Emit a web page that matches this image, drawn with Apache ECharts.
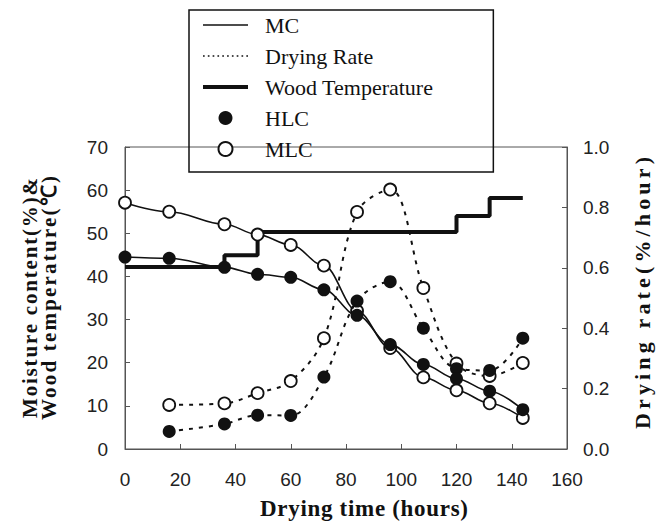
<!DOCTYPE html>
<html>
<head>
<meta charset="utf-8">
<script src="https://cdn.jsdelivr.net/npm/echarts@6/dist/echarts.min.js"></script>
<style>html,body{margin:0;padding:0;background:#fff}#c{width:664px;height:525px}</style>
</head>
<body>
<div id="c"></div>
<script>
// ---- data ----
const hoursMC = [0, 16, 36, 48, 60, 72, 84, 96, 108, 120, 132, 144];
const mcHLC = [44.5, 44.2, 42.1, 40.5, 39.8, 36.9, 31.0, 24.2, 19.6, 16.3, 13.4, 9.1];
const mcMLC = [57.1, 55.0, 52.1, 49.7, 47.3, 42.5, 32.0, 23.4, 16.6, 13.6, 10.6, 7.2];
const hoursRate = [16, 36, 48, 60, 72, 84, 96, 108, 120, 132, 144];
const rateHLC = [0.058, 0.083, 0.112, 0.111, 0.238, 0.49, 0.554, 0.40, 0.266, 0.26, 0.367];
const rateMLC = [0.146, 0.151, 0.185, 0.225, 0.367, 0.785, 0.859, 0.533, 0.283, 0.242, 0.285];
const hoursTemp = [0, 36, 48, 120, 132, 144];
const woodTemp = [42.2, 44.9, 50.3, 54.0, 58.2, 58.2];
const legendNames = ['MC', 'Drying Rate', 'Wood Temperature', 'HLC', 'MLC'];

const zip = (xs, ys) => xs.map((x, i) => [x, ys[i]]);
const INK = '#111';
const sans = "'Liberation Sans', Arial, sans-serif";
const serif = "'Liberation Serif', 'Times New Roman', serif";

// legend icon shapes (styling only)
const thinLine = 'path://M0,0H45V1.3H0Z';
const thickLine = 'path://M0,0H45V4H0Z';
let dots = '';
for (let x = 0; x < 44; x += 4.6) dots += 'M' + x.toFixed(1) + ',0h1.6v1.6h-1.6Z';
const dotLine = 'path://' + dots;

const chart = echarts.init(document.getElementById('c'), null, { renderer: 'svg' });
chart.setOption({
  animation: false,
  backgroundColor: '#fff',
  grid: { left: 125, right: 97, top: 147, bottom: 74, show: true, borderColor: '#555', borderWidth: 1 },
  legend: {
    data: [
      { name: legendNames[0], icon: thinLine },
      { name: legendNames[1], icon: dotLine },
      { name: legendNames[2], icon: thickLine },
      { name: legendNames[3], icon: 'circle' },
      { name: legendNames[4], icon: 'circle' }
    ],
    orient: 'vertical',
    left: 189, top: 10,
    itemWidth: 45, itemHeight: 14, itemGap: 9,
    padding: [4, 60, 12, 14],
    borderColor: INK, borderWidth: 1.5,
    selectedMode: false,
    textStyle: { fontFamily: serif, fontSize: 22, color: INK, padding: [0, 0, 0, 12] }
  },
  xAxis: {
    type: 'value', min: 0, max: 160, interval: 20,
    name: 'Drying time (hours)', nameLocation: 'middle', nameGap: 48,
    nameTextStyle: { fontFamily: serif, fontWeight: 'bold', fontSize: 23, color: INK, padding: [0, 0, 0, 36] },
    axisLine: { lineStyle: { color: '#555', width: 1 } },
    axisTick: { inside: true, length: 5, lineStyle: { color: '#555' } },
    axisLabel: { fontFamily: sans, fontSize: 19, color: '#222', margin: 21 },
    splitLine: { show: false }
  },
  yAxis: [{
    type: 'value', min: 0, max: 70, interval: 10, position: 'left',
    name: 'Moisture content(%)&\nWood temperature(℃)', nameLocation: 'middle', nameGap: 67,
    nameTextStyle: { fontFamily: serif, fontWeight: 'bold', fontSize: 21, color: INK, lineHeight: 19 },
    axisLine: { show: true, lineStyle: { color: '#555', width: 1 } },
    axisTick: { show: true, inside: true, length: 5, lineStyle: { color: '#555' } },
    axisLabel: { fontFamily: sans, fontSize: 19, color: '#222', margin: 17 },
    splitLine: { show: false }
  }, {
    type: 'value', min: 0, max: 1, interval: 0.2, position: 'right',
    name: 'Drying rate(%/hour)', nameLocation: 'middle', nameGap: 64,
    nameTextStyle: { fontFamily: serif, fontWeight: 'bold', fontSize: 22, color: INK, padding: [0, 0, 0, 10] },
    axisLine: { show: true, lineStyle: { color: '#555', width: 1 } },
    axisTick: { show: true, inside: true, length: 5, lineStyle: { color: '#555' } },
    axisLabel: { fontFamily: sans, fontSize: 19, color: '#222', margin: 16, formatter: v => v.toFixed(1) },
    splitLine: { show: false }
  }],
  series: [
    { name: 'Wood Temperature', type: 'line', step: 'end', z: 1,
      data: zip(hoursTemp, woodTemp), symbol: 'none',
      lineStyle: { color: INK, width: 4 }, itemStyle: { color: INK } },
    { name: 'MLC rate', type: 'line', yAxisIndex: 1, z: 2, smooth: 0.35,
      data: zip(hoursRate, rateMLC), symbol: 'circle', symbolSize: 12,
      lineStyle: { color: INK, width: 2, type: [4, 6] },
      itemStyle: { color: '#fff', borderColor: INK, borderWidth: 1.8 } },
    { name: 'MLC MC', type: 'line', z: 3, smooth: 0.35, smoothMonotone: 'x',
      data: zip(hoursMC, mcMLC), symbol: 'circle', symbolSize: 12,
      lineStyle: { color: INK, width: 1.6 },
      itemStyle: { color: '#fff', borderColor: INK, borderWidth: 1.8 } },
    { name: 'HLC rate', type: 'line', yAxisIndex: 1, z: 4, smooth: 0.35,
      data: zip(hoursRate, rateHLC), symbol: 'circle', symbolSize: 13,
      lineStyle: { color: INK, width: 2, type: [4, 6] },
      itemStyle: { color: INK, borderColor: INK, borderWidth: 0 } },
    { name: 'HLC MC', type: 'line', z: 5, smooth: 0.35, smoothMonotone: 'x',
      data: zip(hoursMC, mcHLC), symbol: 'circle', symbolSize: 13,
      lineStyle: { color: INK, width: 1.6 },
      itemStyle: { color: INK, borderColor: INK, borderWidth: 0 } },
    // legend-only entries
    { name: 'MC', type: 'line', data: [], symbol: 'none', lineStyle: { color: INK }, itemStyle: { color: INK } },
    { name: 'Drying Rate', type: 'line', data: [], symbol: 'none', lineStyle: { color: INK }, itemStyle: { color: INK } },
    { name: 'HLC', type: 'scatter', data: [], symbol: 'circle', itemStyle: { color: INK, opacity: 1 } },
    { name: 'MLC', type: 'scatter', data: [], symbol: 'circle', itemStyle: { color: '#fff', borderColor: INK, borderWidth: 1.5, opacity: 1 } }
  ]
});

// the reference's axis titles are letter-spaced: stretch their spacing to the reference lengths
const titleLengths = [
  ['Drying time', 208],
  ['Moisture', 240],
  ['Wood temperature', 244],
  ['Drying rate', 272]
];
function stretchTitles() {
  chart.getDom().querySelectorAll('text').forEach(t => {
    const s = t.textContent || '';
    for (const [key, len] of titleLengths) {
      if (s.indexOf(key) === 0) {
        t.setAttribute('textLength', len);
        t.setAttribute('lengthAdjust', 'spacing');
      }
    }
  });
}
stretchTitles();
setTimeout(stretchTitles, 0);
chart.on('finished', stretchTitles);
</script>
</body>
</html>
